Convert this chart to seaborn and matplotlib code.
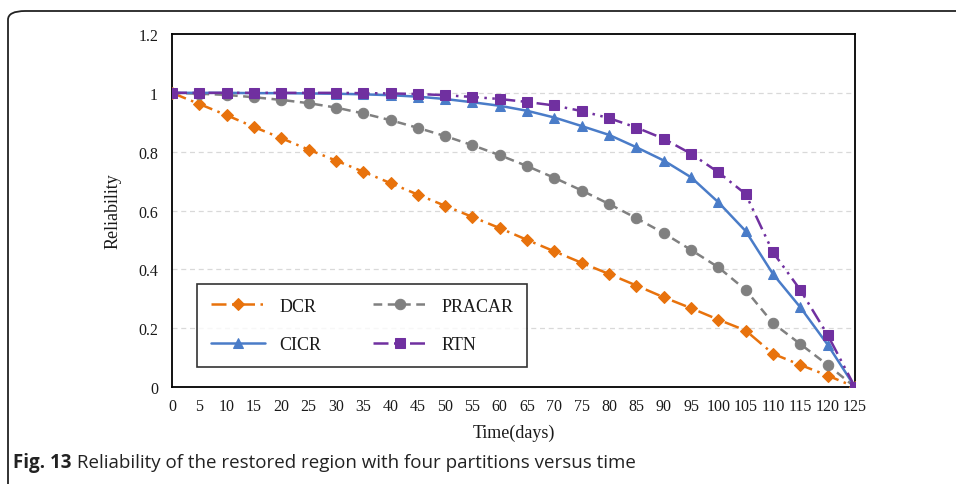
import matplotlib
matplotlib.use("Agg")
import matplotlib.pyplot as plt
from matplotlib.patches import FancyBboxPatch
import seaborn as sns
import pandas as pd

days = [0, 5, 10, 15, 20, 25, 30, 35, 40, 45, 50, 55, 60, 65, 70, 75, 80, 85, 90, 95, 100, 105, 110, 115, 120, 125]
dcr = [1.0, 0.962, 0.924, 0.884, 0.846, 0.807, 0.770, 0.732, 0.693, 0.654, 0.616, 0.578, 0.540, 0.500, 0.461,
       0.422, 0.384, 0.345, 0.305, 0.268, 0.229, 0.192, 0.113, 0.075, 0.039, 0.0]
pracar = [1.0, 0.997, 0.993, 0.985, 0.976, 0.965, 0.950, 0.930, 0.907, 0.881, 0.853, 0.822, 0.788, 0.751, 0.711,
          0.668, 0.622, 0.574, 0.523, 0.466, 0.407, 0.330, 0.217, 0.146, 0.075, 0.0]
cicr = [1.0, 1.0, 1.0, 0.999, 0.999, 0.998, 0.997, 0.995, 0.992, 0.987, 0.979, 0.968, 0.956, 0.939, 0.916,
        0.887, 0.857, 0.815, 0.770, 0.713, 0.628, 0.530, 0.384, 0.271, 0.144, 0.0]
rtn = [1.0, 1.0, 1.0, 1.0, 1.0, 1.0, 1.0, 0.999, 0.998, 0.996, 0.992, 0.986, 0.979, 0.969, 0.957,
       0.938, 0.914, 0.882, 0.844, 0.793, 0.730, 0.656, 0.458, 0.330, 0.177, 0.0]
series_names = ["DCR", "PRACAR", "CICR", "RTN"]
caption_bold = "Fig. 13"
caption_text = " Reliability of the restored region with four partitions versus time"

df = pd.DataFrame({
    "Time(days)": days * 4,
    "Reliability": dcr + pracar + cicr + rtn,
    "series": [s for s in series_names for _ in days],
})

sns.set_theme(style="white")
plt.rcParams["font.family"] = ["Liberation Serif", "DejaVu Serif"]

fig = plt.figure(figsize=(9.56, 4.85), dpi=100)
ax = fig.add_axes([0.1799, 0.2, 0.7144, 0.7278])

palette = {"DCR": "#E8720C", "PRACAR": "#808080", "CICR": "#4A7CC8", "RTN": "#7030A0"}
markers = {"DCR": "D", "PRACAR": "o", "CICR": "^", "RTN": "s"}
dashes = {"DCR": (6, 2.2, 1, 2.2), "PRACAR": (3.5, 2.2), "CICR": "", "RTN": (6, 2.2, 1, 2.2, 1, 2.2)}
msize = {"DCR": 6, "PRACAR": 7.5, "CICR": 7.5, "RTN": 7.5}

handles = {}
for name in series_names:
    sub = df[df["series"] == name]
    sns.lineplot(data=sub, x="Time(days)", y="Reliability", ax=ax, color=palette[name],
                 marker=markers[name], markersize=msize[name], markeredgecolor=palette[name],
                 linewidth=1.8, dashes=False, label=name, zorder=3)
    line = ax.lines[-1]
    if dashes[name]:
        line.set_dashes(dashes[name])
    handles[name] = line

ax.set_xlim(0, 125)
ax.set_ylim(0, 1.2)
ax.set_xticks(days)
ax.set_xticklabels([str(d) for d in days])
ax.set_yticks([0, 0.2, 0.4, 0.6, 0.8, 1.0, 1.2])
ax.set_yticklabels(["0", "0.2", "0.4", "0.6", "0.8", "1", "1.2"])
ax.tick_params(axis="x", direction="in", length=4, width=1, color="black", labelsize=11.5, pad=8)
ax.tick_params(axis="y", length=0, labelsize=11.5, pad=10)
for lbl in ax.get_xticklabels() + ax.get_yticklabels():
    lbl.set_color("#1a1a1a")
for sp in ax.spines.values():
    sp.set_visible(True)
    sp.set_color("black")
    sp.set_linewidth(1.3)
for yv in [0.2, 0.4, 0.6, 0.8, 1.0]:
    ax.axhline(yv, color="#D9D9D9", linestyle=(0, (4, 3)), linewidth=0.9, zorder=1)

ax.set_xlabel("Time(days)", fontsize=13, color="#1a1a1a", labelpad=7)
ax.set_ylabel("Reliability", fontsize=13, color="#1a1a1a", labelpad=12)

order = ["DCR", "CICR", "PRACAR", "RTN"]
leg = ax.legend([handles[n] for n in order], order,
                loc="lower left", bbox_to_anchor=(0.037, 0.057, 0.483, 0.226), mode="expand",
                borderaxespad=0.0,
                ncol=2, frameon=True, fancybox=False, edgecolor="black", fontsize=13,
                handlelength=3.0, borderpad=0.75, labelspacing=1.2, columnspacing=3.2,
                handletextpad=0.8)
leg.get_frame().set_linewidth(1.2)
for t in leg.get_texts():
    t.set_color("#1a1a1a")

# outer frame with rounded top-left corner
frame = FancyBboxPatch((8 / 956, -0.2), 1.2, (485 - 12) / 485 + 0.2,
                       boxstyle="round,pad=0,rounding_size=0.018", transform=fig.transFigure,
                       fill=False, edgecolor="#222222", linewidth=1.3, clip_on=False)
fig.patches.append(frame)

t1 = fig.text(13 / 956, 1 - 468 / 485, caption_bold, fontsize=13.5, fontweight="bold",
              family=["Open Sans", "DejaVu Sans"], color="#222222", va="baseline")
fig.canvas.draw()
bb = t1.get_window_extent()
fig.text(bb.x1 / 956, 1 - 468 / 485, caption_text, fontsize=13.5,
         family=["Open Sans", "DejaVu Sans"], color="#222222", va="baseline")

fig.savefig("out.png", dpi=100)
